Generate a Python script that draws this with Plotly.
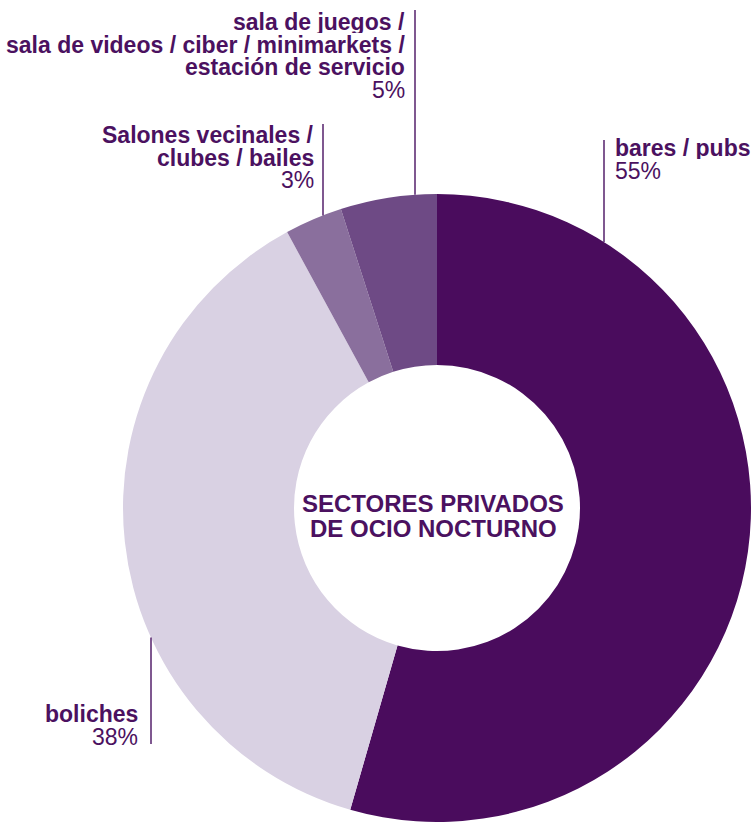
import math
import plotly.graph_objects as go

# Sector shares (percent)
categories = [
    "bares / pubs",
    "boliches",
    "Salones vecinales / clubes / bailes",
    "sala de juegos / sala de videos / ciber / minimarkets / estación de servicio",
]
shares = [55, 38, 3, 5]
slice_colors = ["#4a0c5d", "#d9d1e3", "#8a6f9d", "#6e4a85"]
label_lines = [
    ["bares / pubs"],
    ["boliches"],
    ["Salones vecinales /", "clubes / bailes"],
    ["sala de juegos /", "sala de videos / ciber / minimarkets /", "estación de servicio"],
]
center_title = ["SECTORES PRIVADOS", "DE OCIO NOCTURNO"]

W, H = 751, 822
TEXT = "#4b1160"
LINE = "#55206b"
FONT = "Liberation Sans, Arial, sans-serif"

# donut geometry in pixels
cx, cy, R = 437, 508, 314
hole = 143 / R


def px(x):
    return x / W


def py(y):
    return 1 - y / H


def circle_y(x, upper=True):
    d = math.sqrt(max(R * R - (x - cx) ** 2, 0))
    return cy - d if upper else cy + d


fig = go.Figure(
    go.Pie(
        labels=categories,
        values=shares,
        marker=dict(colors=slice_colors, line=dict(color="white", width=0)),
        hole=hole,
        sort=False,
        direction="clockwise",
        rotation=0,
        textinfo="none",
        hoverinfo="label+percent",
        showlegend=False,
        domain=dict(x=[px(cx - R), px(cx + R)], y=[py(cy + R), py(cy - R)]),
    )
)

# label placement: (x, first line centre y, anchor, leader x, leader top/bottom)
label_pos = [
    dict(x=614, y=148, anchor="left", lx=604, ltop=140, outside_top=True),
    dict(x=139, y=714, anchor="right", lx=151, lbottom=744, outside_top=False),
    dict(x=315, y=135, anchor="right", lx=323, ltop=124, outside_top=True),
    dict(x=406, y=22, anchor="right", lx=415, ltop=10, outside_top=True),
]
step = 22.7

annotations = []
shapes = []
for lines, val, pos in zip(label_lines, shares, label_pos):
    texts = [(t, True) for t in lines] + [(f"{val}%", False)]
    for i, (t, bold) in enumerate(texts):
        annotations.append(
            dict(
                x=px(pos["x"]), y=py(pos["y"] + i * step),
                xref="paper", yref="paper",
                xanchor=pos["anchor"], yanchor="middle",
                text=t, showarrow=False, height=22, borderpad=0,
                font=dict(family=FONT, size=23, color=TEXT,
                          weight="bold" if bold else "normal"),
            )
        )
    if pos["outside_top"]:
        y0, y1 = pos["ltop"], circle_y(pos["lx"], True)
    else:
        y0, y1 = circle_y(pos["lx"], False), pos["lbottom"]
    shapes.append(
        dict(type="line", xref="paper", yref="paper",
             x0=px(pos["lx"]), x1=px(pos["lx"]), y0=py(y0), y1=py(y1),
             line=dict(color=LINE, width=1.5))
    )

for i, t in enumerate(center_title):
    annotations.append(
        dict(
            x=px(433), y=py(503 + i * 25),
            xref="paper", yref="paper",
            xanchor="center", yanchor="middle",
            text=t, showarrow=False, height=24, borderpad=0,
            font=dict(family=FONT, size=24, color=TEXT, weight="bold"),
        )
    )

fig.update_layout(
    width=W, height=H,
    margin=dict(l=0, r=0, t=0, b=0),
    paper_bgcolor="white", plot_bgcolor="white",
    annotations=annotations, shapes=shapes,
)

fig.write_html("out.html")
